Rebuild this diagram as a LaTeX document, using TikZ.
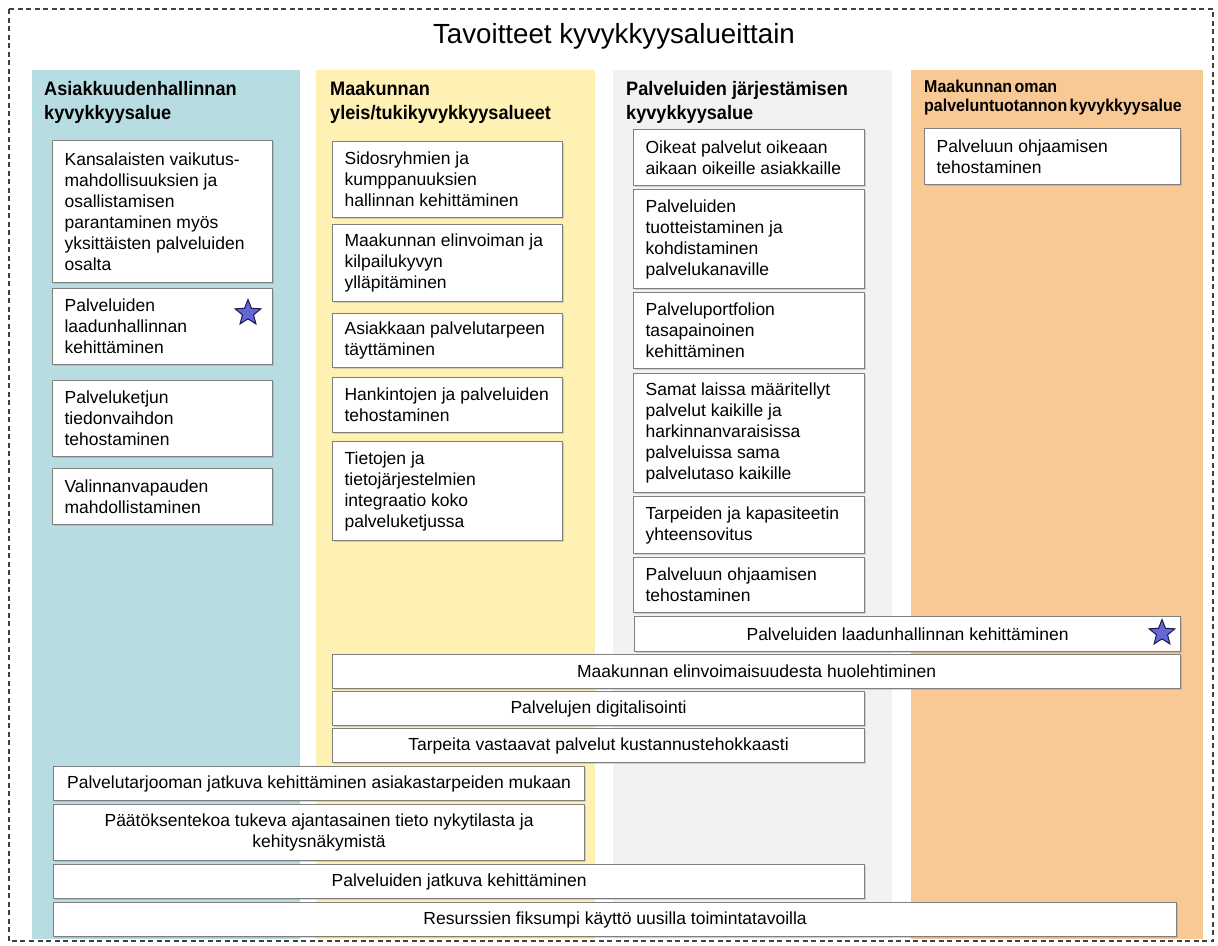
\documentclass[tikz,border=0pt]{standalone}
\usepackage{fontspec}
\setmainfont{Liberation Sans}
\newfontfamily\hdrfont{Liberation Sans}[FakeStretch=0.93]
\usetikzlibrary{shapes.geometric,shadows}

\definecolor{colblue}{HTML}{B7DDE2}
\definecolor{colyellow}{HTML}{FFF0B3}
\definecolor{colgray}{HTML}{F2F2F2}
\definecolor{colorange}{HTML}{F8C995}
\definecolor{boxline}{HTML}{7F7F7F}
\definecolor{starfill}{HTML}{6666D9}
\definecolor{starline}{HTML}{1A1A4D}
\definecolor{framecol}{HTML}{404040}

% narrower inter-word spaces for the small header
\newcommand\tightspaces{\spaceskip=2.4pt plus 1pt\relax}
% left-aligned goal box: name, x, y, width, height, text
\newcommand\goalL[6]{%
  \pgfmathsetmacro\gtw{#4-24}%
  \node[goal, align=flush left, text width=\gtw pt, minimum height=#5pt] (#1) at (#2,#3) {#6};}
% centred goal box: name, x, y, width, height, text
\newcommand\goalC[6]{%
  \node[goal, align=center, minimum width=#4pt, minimum height=#5pt] (#1) at (#2,#3) {#6};}

\begin{document}
\begin{tikzpicture}[x=1pt,y=-1pt,
  frame/.style={draw=framecol, line width=1.1pt, dash pattern=on 5pt off 3.5pt},
  titletext/.style={anchor=base, inner sep=0pt, font=\fontsize{27.7}{33}\selectfont},
  hdr/.style={anchor=base west, inner sep=0pt, align=flush left, text width=270pt,
    font=\hdrfont\bfseries\fontsize{19.5}{24}\selectfont},
  hdrsmall/.style={anchor=base west, inner sep=0pt, align=flush left, text width=290pt,
    font=\hdrfont\bfseries\fontsize{17.2}{19}\selectfont},
  goal/.style={draw=boxline, line width=1.2pt, fill=white, anchor=north west,
    inner ysep=0pt, inner xsep=12pt, font=\fontsize{17.5}{21}\selectfont,
    execute at begin node={\hyphenpenalty=10000\relax},
    drop shadow={shadow xshift=1.2pt, shadow yshift=-1.2pt, opacity=0.3}},
  starmark/.style={star, star points=5, star point ratio=2.3, minimum size=27pt,
    inner sep=0pt, fill=starfill, draw=starline, line width=1pt},
]
\useasboundingbox (0,0) rectangle (1218,945);
\fill[white] (0,0) rectangle (1218,945);

% outer dashed frame
\draw[frame] (9,9) rectangle (1213,941);

% capability area columns
\fill[colblue]   (32,70)  rectangle (300,939);
\fill[colyellow] (316,70) rectangle (595,939);
\fill[colgray]   (613,70) rectangle (892,939);
\fill[colorange] (911,70) rectangle (1203,939);

% title and column headers
\node[titletext] (title) at (614,43) {Tavoitteet kyvykkyysalueittain};
\node[hdr] (hblue)   at (44,95)  {Asiakkuudenhallinnan\\kyvykkyysalue};
\node[hdr] (hyellow) at (330,95) {Maakunnan\\yleis/tukikyvykkyysalueet};
\node[hdr] (hgray)   at (626,95) {Palveluiden järjestämisen\\kyvykkyysalue};
\node[hdrsmall] (horange) at (924,92) {\tightspaces Maakunnan oman\\palveluntuotannon kyvykkyysalue};

% customer relationship column
\goalL{b1}{52}{140}{220}{142}{Kansalaisten vaikutus-\\mahdollisuuksien ja\\osallistamisen\\parantaminen myös\\yksittäisten palveluiden\\osalta}
\goalL{b2}{52}{288}{220}{76}{Palveluiden\\laadunhallinnan\\kehittäminen}
\goalL{b3}{52}{380}{220}{76}{Palveluketjun\\tiedonvaihdon\\tehostaminen}
\goalL{b4}{52}{468}{220}{56}{Valinnanvapauden\\mahdollistaminen}
\node[starmark] (star1) at (248,313) {};

% general / support column
\goalL{y1}{332}{141}{230}{76}{Sidosryhmien ja\\kumppanuuksien\\hallinnan kehittäminen}
\goalL{y2}{332}{224}{230}{77}{Maakunnan elinvoiman ja\\kilpailukyvyn\\ylläpitäminen}
\goalL{y3}{332}{313}{230}{54}{Asiakkaan palvelutarpeen\\täyttäminen}
\goalL{y4}{332}{377}{230}{55}{Hankintojen ja palveluiden\\tehostaminen}
\goalL{y5}{332}{441}{230}{99}{Tietojen ja\\tietojärjestelmien\\integraatio koko\\palveluketjussa}

% service organising column
\goalL{g1}{633}{129}{231}{56}{Oikeat palvelut oikeaan\\aikaan oikeille asiakkaille}
\goalL{g2}{633}{189}{231}{99}{Palveluiden\\tuotteistaminen ja\\kohdistaminen\\palvelukanaville}
\goalL{g3}{633}{292}{231}{76}{Palveluportfolion\\tasapainoinen\\kehittäminen}
\goalL{g4}{633}{373}{231}{119}{Samat laissa määritellyt\\palvelut kaikille ja\\harkinnanvaraisissa\\palveluissa sama\\palvelutaso kaikille}
\goalL{g5}{633}{496}{231}{57}{Tarpeiden ja kapasiteetin\\yhteensovitus}
\goalL{g6}{633}{557}{231}{55}{Palveluun ohjaamisen\\tehostaminen}

% own service production column
\goalL{o1}{924}{128}{256}{56}{Palveluun ohjaamisen\\tehostaminen}

% goals spanning several columns
\goalC{w1}{634}{616}{546}{35}{Palveluiden laadunhallinnan kehittäminen}
\node[starmark] (star2) at (1162,633) {};
\goalC{w2}{332}{654}{848}{34}{Maakunnan elinvoimaisuudesta huolehtiminen}
\goalC{w3}{332}{691}{532}{34}{Palvelujen digitalisointi}
\goalC{w4}{332}{728}{532}{34}{Tarpeita vastaavat palvelut kustannustehokkaasti}
\goalC{w5}{53}{766}{531}{34}{Palvelutarjooman jatkuva kehittäminen asiakastarpeiden mukaan}
\goalC{w6}{53}{804}{531}{56}{Päätöksentekoa tukeva ajantasainen tieto nykytilasta ja\\kehitysnäkymistä}
\goalC{w7}{53}{864}{811}{34}{Palveluiden jatkuva kehittäminen}
\goalC{w8}{53}{902}{1123}{34}{Resurssien fiksumpi käyttö uusilla toimintatavoilla}
\end{tikzpicture}
\end{document}
